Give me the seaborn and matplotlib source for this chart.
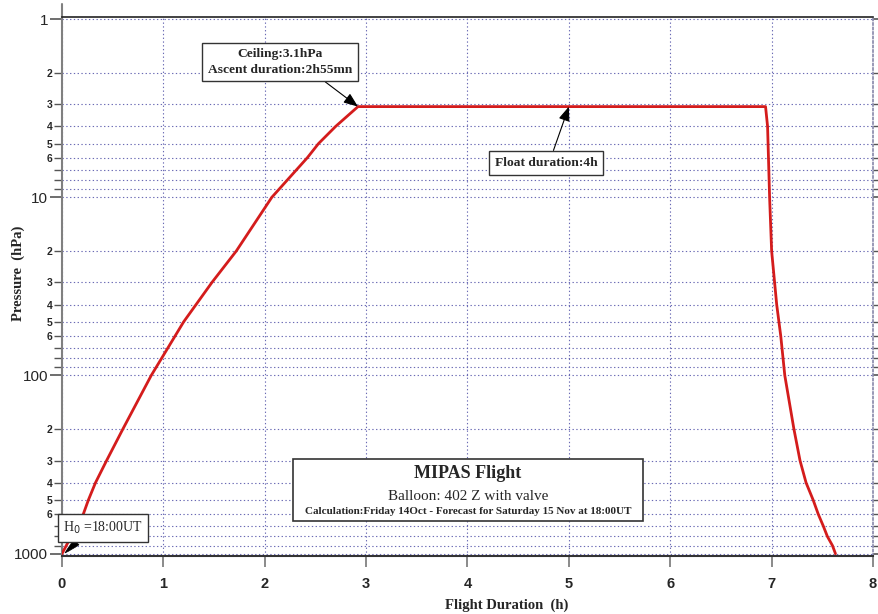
import matplotlib
matplotlib.use("Agg")
import matplotlib.pyplot as plt
import matplotlib.ticker as mticker
from matplotlib.patches import Rectangle
import numpy as np
import pandas as pd
import seaborn as sns

# Flight profile: elapsed time (h) and balloon pressure level (hPa)
time_h = [0.0, 0.1, 0.21, 0.26, 0.33, 0.44, 0.6, 0.88, 1.2, 1.48, 1.72, 2.07,
          2.42, 2.53, 2.7, 2.92, 6.94, 6.96, 6.98, 7.0, 7.05, 7.09, 7.13,
          7.22, 7.28, 7.34, 7.41, 7.46, 7.51, 7.55, 7.6, 7.63]
pressure_hpa = [1000, 780, 600, 500, 400, 300, 200, 100, 50, 30, 20, 10,
                6, 5, 4, 3.1, 3.1, 4, 10, 20, 40, 60, 100,
                200, 300, 400, 500, 600, 700, 800, 900, 1000]

x_ticks = [0, 1, 2, 3, 4, 5, 6, 7, 8]
y_major = [1, 10, 100, 1000]
y_minor_labels = ["2", "3", "4", "5", "6", "", "", ""]

ceiling_hpa = 3.1
ceiling_time = 2.92
float_mark_time = 5.0

df = pd.DataFrame({"Flight Duration (h)": time_h, "Pressure (hPa)": pressure_hpa})

sns.set_theme(style="white")
plt.rcParams["font.family"] = ["Liberation Sans", "DejaVu Sans"]

W, H = 879, 614
fig = plt.figure(figsize=(W / 100, H / 100), dpi=100)
fig.patch.set_facecolor("white")


def fpx(x, y):
    """Figure fraction from pixel position measured from the top-left."""
    return (x / W, 1 - y / H)


ax = fig.add_axes([62 / W, 1 - 556 / H, (873 - 62) / W, (556 - 17) / H])
ax.set_facecolor("white")

sns.lineplot(data=df, x="Flight Duration (h)", y="Pressure (hPa)", sort=False,
             estimator=None, color="#d41c1c", lw=2.0, ax=ax, zorder=5)

ax.set_yscale("log")
ax.set_ylim(1030, 0.974)
ax.set_xlim(0, 8)

# y ticks: decades labelled large, sub-decades small and bold
ax.yaxis.set_major_locator(mticker.FixedLocator(y_major))
ax.yaxis.set_major_formatter(mticker.FixedFormatter([str(v) for v in y_major]))
minor_vals, minor_txt = [], []
for dec in [1, 10, 100]:
    for k, lab in zip(range(2, 10), y_minor_labels):
        minor_vals.append(k * dec)
        minor_txt.append(lab)
ax.yaxis.set_minor_locator(mticker.FixedLocator(minor_vals))
ax.yaxis.set_minor_formatter(mticker.FixedFormatter(minor_txt))

ax.xaxis.set_major_locator(mticker.FixedLocator(x_ticks))
ax.xaxis.set_minor_locator(mticker.NullLocator())

ax.tick_params(axis="y", which="major", left=True, right=True, direction="out",
               length=9, width=1.2, color="#555555", labelsize=11, pad=1)
ax.tick_params(axis="y", which="minor", left=True, right=True, direction="out",
               length=6, width=1.0, color="#555555", labelsize=7.5, pad=1)
ax.tick_params(axis="x", which="major", bottom=True, direction="out",
               length=8, width=1.2, color="#777777", labelsize=10.5, pad=7)
for lab in ax.yaxis.get_minorticklabels():
    lab.set_fontweight("bold")
for lab in ax.xaxis.get_majorticklabels():
    lab.set_fontweight("bold")

ax.set_xlabel("")
ax.set_ylabel("")

grid_kw = dict(color="#6a6ab4", lw=0.8, linestyle=(0, (1.2, 2.2)))
ax.grid(True, which="major", axis="both", **grid_kw)
ax.grid(True, which="minor", axis="y", **grid_kw)

for side in ["left", "bottom"]:
    ax.spines[side].set_color("#808080")
    ax.spines[side].set_linewidth(1.5)
ax.spines["bottom"].set_color("#333333")
ax.spines["top"].set_color("#222222")
ax.spines["top"].set_linewidth(1.2)
ax.spines["right"].set_color("#8888aa")
ax.spines["right"].set_linewidth(1.2)
ax.spines["right"].set_linestyle((0, (1.2, 1.5)))
# left axis line runs a little past the top of the frame
ax.plot([0, 0], [1.0, 1.025], transform=ax.transAxes, color="#808080",
        lw=1.5, clip_on=False)

# axis titles
fig.text(*fpx(507, 605), "Flight Duration  (h)", ha="center", va="center",
         family="Liberation Serif", fontweight="bold", fontsize=10.5)
fig.text(*fpx(18, 273), "Pressure  (hPa)", ha="center", va="center",
         rotation=90, family="Liberation Serif", fontweight="bold", fontsize=10.5)

box = dict(boxstyle="square,pad=0.4", fc="white", ec="#333333", lw=1.0)
arrow = dict(arrowstyle="-|>,head_length=0.9,head_width=0.35", color="black",
             lw=0.8, shrinkA=0, shrinkB=0)

ax.annotate("Ceiling:3.1hPa\nAscent duration:2h55mn",
            xy=(ceiling_time, ceiling_hpa), xycoords="data",
            xytext=fpx(280, 62), textcoords="figure fraction",
            ha="center", va="center", multialignment="center",
            family="Liberation Serif", fontweight="bold", fontsize=9.7,
            linespacing=1.45, bbox=box,
            arrowprops=dict(arrow, relpos=(0.76, 0.0)), zorder=10)

ax.annotate("Float duration:4h",
            xy=(float_mark_time, ceiling_hpa), xycoords="data",
            xytext=fpx(546, 163), textcoords="figure fraction",
            ha="center", va="center",
            family="Liberation Serif", fontweight="bold", fontsize=9.7,
            bbox=dict(boxstyle="square,pad=0.45", fc="white", ec="#333333", lw=1.0),
            arrowprops=dict(arrow, relpos=(0.55, 1.0)), zorder=10)

ax.annotate("H$_0$ =18:00UT",
            xy=(0.03, 990), xycoords="data",
            xytext=fpx(103, 528), textcoords="figure fraction",
            ha="center", va="center",
            family="Liberation Serif", fontsize=10,
            bbox=dict(boxstyle="square,pad=0.4", fc="white", ec="#333333", lw=1.0),
            arrowprops=dict(arrowstyle="wedge,tail_width=0.5,shrink_factor=0.6",
                            color="black", lw=0.5, shrinkA=0, shrinkB=0,
                            relpos=(0.25, 0.0)),
            zorder=10)

# title block
x0, y0 = fpx(293, 521)
x1, y1 = fpx(643, 459)
fig.patches.append(Rectangle((x0, y0), x1 - x0, y1 - y0, transform=fig.transFigure,
                             fc="white", ec="#333333", lw=1.2, zorder=8))
fig.text(*fpx(468, 474), "MIPAS Flight", ha="center", va="center",
         family="Liberation Serif", fontweight="bold", fontsize=13, zorder=9)
fig.text(*fpx(468, 496), "Balloon: 402 Z with valve", ha="center", va="center",
         family="Liberation Serif", fontsize=11, zorder=9)
fig.text(*fpx(468, 512),
         "Calculation:Friday 14Oct - Forecast for Saturday 15 Nov at 18:00UT",
         ha="center", va="center", family="Liberation Serif",
         fontweight="bold", fontsize=8, zorder=9)

fig.savefig("out.png", dpi=100, facecolor="white")
